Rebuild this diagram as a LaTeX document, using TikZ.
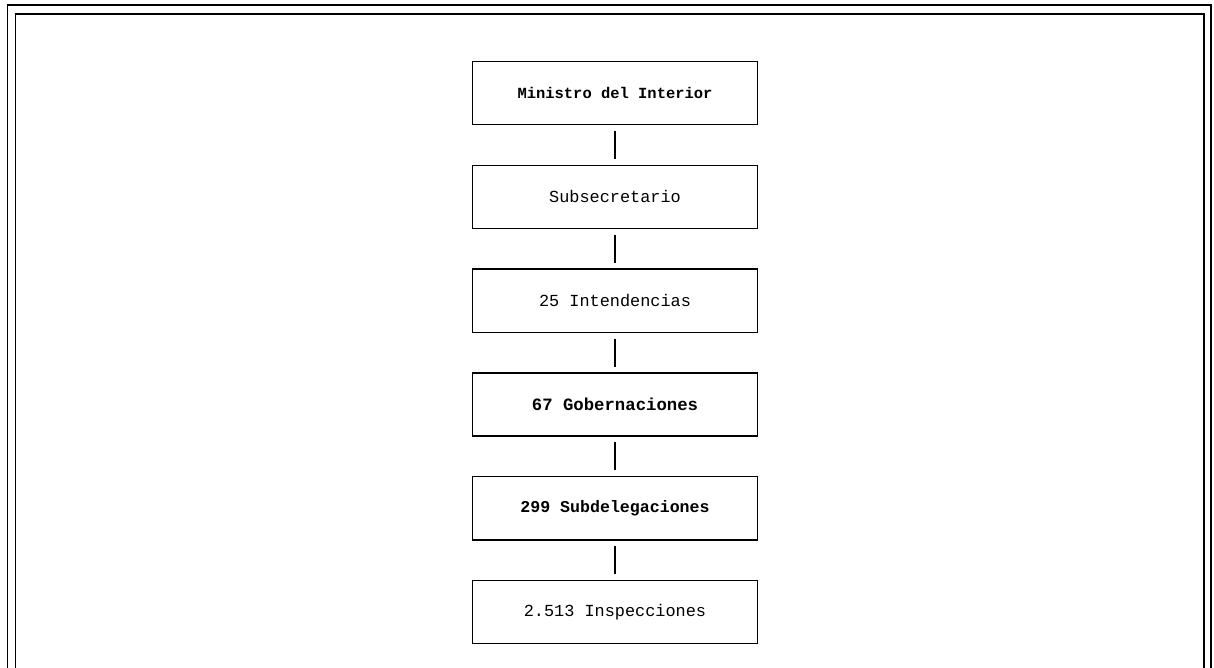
\documentclass[tikz,border=0pt]{standalone}
\usepackage{fontspec}
\setmonofont{Liberation Mono}
\usepackage{tikz}
\usetikzlibrary{positioning}

\begin{document}
\begin{tikzpicture}[
    x=0.025cm, y=-0.025cm,
    node distance=0.98cm,
    box/.style={rectangle, draw, line width=1pt, minimum width=7.125cm, minimum height=1.58cm, font=\ttfamily\fontsize{12}{14}\selectfont},
    link/.style={line width=1pt, shorten >=4pt, shorten <=4pt},
    frame/.style={line width=1pt}
]
\useasboundingbox (0,0) rectangle (1214,668);

% Frame
\draw[frame] (7.5,668) -- (7.5,5) -- (1211,5) -- (1211,668);
\draw[frame] (15.5,668) -- (15.5,14) -- (1204,14) -- (1204,668);

% Ministro
\node[box, font=\ttfamily\bfseries\fontsize{11}{13}\selectfont] (min) at (615,93) {Ministro del Interior};

% Subsecretario
\node[box, below=of min] (sub) {Subsecretario};

% Intendencias
\node[box, below=of sub] (int) {25 Intendencias};

% Gobernaciones
\node[box, below=of int, font=\ttfamily\bfseries\fontsize{12.3}{14}\selectfont] (gob) {67 Gobernaciones};

% Subdelegaciones
\node[box, below=of gob, font=\ttfamily\bfseries\fontsize{11.8}{14}\selectfont] (subd) {299 Subdelegaciones};

% Inspecciones
\node[box, below=of subd] (insp) {2.513 Inspecciones};

% Links
\draw[link] (min) -- (sub);
\draw[link] (sub) -- (int);
\draw[link] (int) -- (gob);
\draw[link] (gob) -- (subd);
\draw[link] (subd) -- (insp);

\end{tikzpicture}
\end{document}
